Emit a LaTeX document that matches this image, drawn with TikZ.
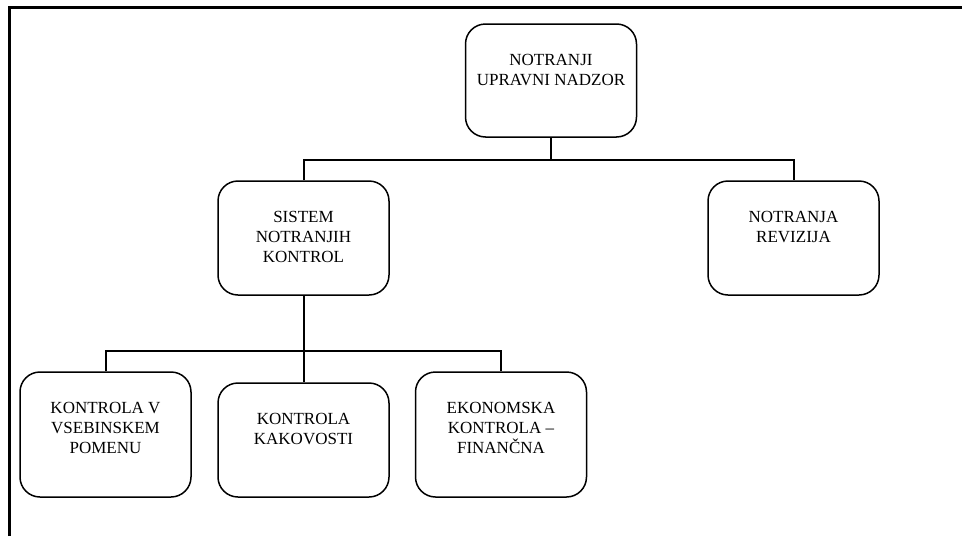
\documentclass[tikz,border=0pt]{standalone}
\usepackage{fontspec}
\setmainfont{Liberation Serif}
\usepackage{tikz}

% box label: text sits near the top of the box
\newcommand{\lbl}[2][114pt]{\parbox[c][#1][t]{171pt}{\centering\fontsize{17}{20}\selectfont\vspace*{30pt}#2}}

\begin{document}
\begin{tikzpicture}[x=1pt, y=-1pt, line join=miter,
                    main node/.style={draw, rounded corners=20pt, line width=1.5pt, inner sep=0pt},
                    conn/.style={line width=2pt}]

   \useasboundingbox (0,0) rectangle (962,536);
   \draw[line width=3pt] (9,536) -- (9,7) -- (962,7);

   \node[main node] (nadzor) at (551,80.5) {\lbl[113pt]{NOTRANJI\\UPRAVNI NADZOR}};
   \node[main node] (sistem) at (303.5,238) {\lbl{SISTEM\\NOTRANJIH\\KONTROL}};
   \node[main node] (revizija) at (793.5,238) {\lbl{NOTRANJA\\REVIZIJA}};
   \node[main node] (vsebina) at (105.5,434.5) {\lbl[125pt]{KONTROLA V\\VSEBINSKEM\\POMENU}};
   \node[main node] (kakovost) at (303.5,440) {\lbl{KONTROLA\\KAKOVOSTI}};
   \node[main node] (finance) at (501,434.5) {\lbl[125pt]{EKONOMSKA\\KONTROLA --\\FINANČNA}};

   % upper level
   \draw[conn] (nadzor.south) -- (551,159.5) coordinate (bus1);
   \draw[conn] (sistem.north) |- (bus1) -| (revizija.north);

   % lower level
   \draw[conn] (sistem.south) -- (303.5,351) coordinate (bus2);
   \draw[conn] (vsebina.north) |- (bus2) -| (finance.north);
   \draw[conn] (bus2) -- (kakovost.north);

\end{tikzpicture}
\end{document}
